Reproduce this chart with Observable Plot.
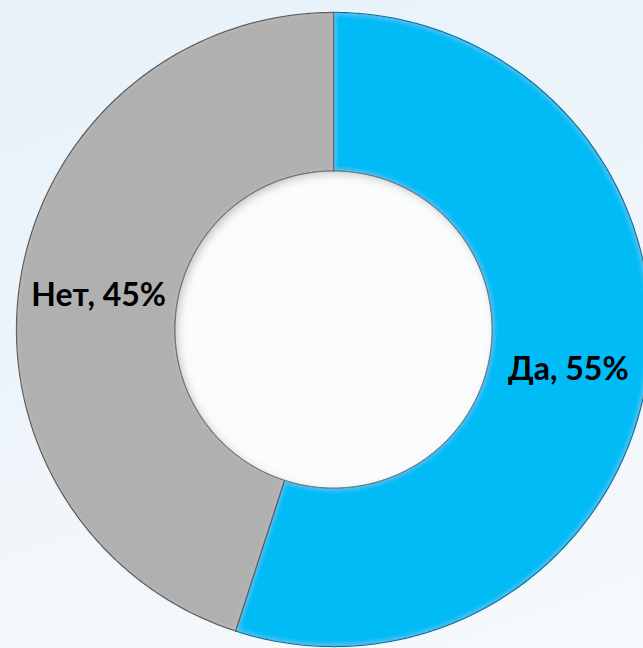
<!DOCTYPE html>
<html>
<head>
<meta charset="utf-8">
<script src="https://cdn.jsdelivr.net/npm/d3@7"></script>
<script src="https://cdn.jsdelivr.net/npm/@observablehq/plot@0.6"></script>
<style>
  html, body { margin: 0; padding: 0; overflow: hidden; }
  body {
    width: 643px; height: 648px;
    background: linear-gradient(160deg, #e6f1f8 0%, #eef5fa 45%, #f6f9fc 100%);
  }
</style>
</head>
<body>
<div id="chart"></div>
<script>
// ---- data ----
const categories = ["Да", "Нет"];
const values = [55, 45];
const colors = ["#00bbf5", "#b0b0b0"];
const edgeColors = ["#06779e", "#5e5e5e"];
const labels = ["Да, 55%", "Нет, 45%"];

const innerRatio = 0.5;   // hole radius relative to outer
const labelRatio = 0.75;  // label radius relative to outer

const data = categories.map((c, i) => ({category: c, value: values[i], color: colors[i], edge: edgeColors[i], label: labels[i]}));
const arcs = d3.pie().sort(null).value(d => d.value)(data);

// ring polygon sampled along each slice's arc
function slicePoints(a) {
  const pts = [];
  const n = Math.max(8, Math.ceil((a.endAngle - a.startAngle) / 0.01));
  for (let k = 0; k <= n; k++) {
    const t = a.startAngle + (a.endAngle - a.startAngle) * k / n;
    pts.push({x: Math.sin(t), y: Math.cos(t)});
  }
  for (let k = n; k >= 0; k--) {
    const t = a.startAngle + (a.endAngle - a.startAngle) * k / n;
    pts.push({x: innerRatio * Math.sin(t), y: innerRatio * Math.cos(t)});
  }
  return pts;
}
const holePoints = d3.range(0, 361).map(d => {
  const t = d * Math.PI / 180;
  return {x: innerRatio * Math.sin(t), y: innerRatio * Math.cos(t)};
});
const labelData = arcs.map(a => {
  const m = (a.startAngle + a.endAngle) / 2;
  return {x: labelRatio * Math.sin(m), y: labelRatio * Math.cos(m), text: a.data.label};
});

const cx = 333, cy = 329, R = 317;

const svg = Plot.plot({
  width: 643,
  height: 648,
  margin: 0,
  style: {background: "transparent", overflow: "hidden"},
  x: {domain: [-1, 1], range: [cx - R, cx + R], axis: null},
  y: {domain: [-1, 1], range: [cy + R, cy - R], axis: null},
  marks: [
    ...arcs.map(a => Plot.line(slicePoints(a), {
      x: "x", y: "y", curve: "linear-closed",
      fill: a.data.color, stroke: a.data.edge, strokeWidth: 1.3
    })),
    Plot.line(holePoints, {
      x: "x", y: "y", curve: "linear-closed",
      fill: "#fbfcfd", stroke: "#6f7a80", strokeWidth: 1
    }),
    Plot.text(labelData, {
      x: "x", y: "y", text: "text", dy: 3,
      fontSize: 32, fontWeight: "bold", fontFamily: "Lato, 'Open Sans', sans-serif",
      fill: "#000"
    })
  ]
});

// bevel-like edge highlight on the slices and a soft inner shadow in the hole
const s = d3.select(svg);
const defs = s.insert("defs", ":first-child");
const bevel = defs.append("filter").attr("id", "bevel").attr("x", "-5%").attr("y", "-5%").attr("width", "110%").attr("height", "110%");
bevel.append("feGaussianBlur").attr("in", "SourceAlpha").attr("stdDeviation", 3).attr("result", "blur");
bevel.append("feComposite").attr("in", "SourceAlpha").attr("in2", "blur").attr("operator", "out").attr("result", "edge");
bevel.append("feMorphology").attr("in", "edge").attr("operator", "erode").attr("radius", 1).attr("result", "edge2");
bevel.append("feFlood").attr("flood-color", "#ffffff").attr("flood-opacity", 0.35).attr("result", "white");
bevel.append("feComposite").attr("in", "white").attr("in2", "edge2").attr("operator", "in").attr("result", "hl");
const m = bevel.append("feMerge");
m.append("feMergeNode").attr("in", "SourceGraphic");
m.append("feMergeNode").attr("in", "hl");

const holeF = defs.append("filter").attr("id", "holeShadow");
holeF.append("feGaussianBlur").attr("in", "SourceAlpha").attr("stdDeviation", 5).attr("result", "blur");
holeF.append("feOffset").attr("in", "blur").attr("dx", 3).attr("dy", 3).attr("result", "off");
holeF.append("feComposite").attr("in", "SourceAlpha").attr("in2", "off").attr("operator", "out").attr("result", "edge");
holeF.append("feFlood").attr("flood-color", "#5f6a72").attr("flood-opacity", 0.55).attr("result", "dark");
holeF.append("feComposite").attr("in", "dark").attr("in2", "edge").attr("operator", "in").attr("result", "sh");
const m2 = holeF.append("feMerge");
m2.append("feMergeNode").attr("in", "SourceGraphic");
m2.append("feMergeNode").attr("in", "sh");

const lineGroups = s.selectAll('g[aria-label="line"]').nodes();
lineGroups.forEach((g, i) => {
  d3.select(g).attr("filter", i < arcs.length ? "url(#bevel)" : "url(#holeShadow)");
});

document.getElementById("chart").appendChild(svg);
</script>
</body>
</html>
